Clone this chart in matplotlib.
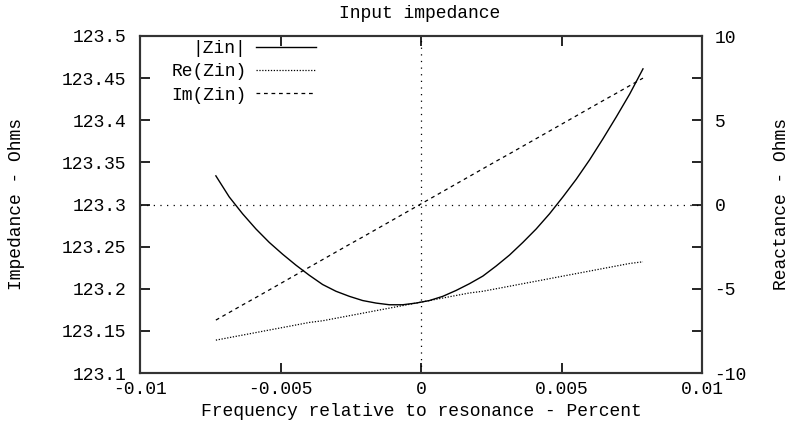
import numpy as np
import matplotlib.pyplot as plt
from matplotlib.ticker import MultipleLocator, FixedLocator, FixedFormatter

plt.rcParams['font.family'] = ['Liberation Mono', 'DejaVu Sans Mono']
plt.rcParams['font.size'] = 13

# frequency offset from resonance, percent
freq = [-0.0073, -0.006825, -0.00635, -0.005875, -0.0054, -0.004925, -0.00445, -0.003975,
        -0.0035, -0.003025, -0.00255, -0.002075, -0.0016, -0.001125, -0.00065, -0.000175,
        0.0003, 0.000775, 0.00125, 0.001725, 0.0022, 0.002675, 0.00315, 0.003625,
        0.0041, 0.004575, 0.00505, 0.005525, 0.006, 0.006475, 0.00695, 0.007425, 0.0079]
# impedance magnitude, ohms
z_mag = [123.334, 123.309, 123.289, 123.271, 123.255, 123.241, 123.228, 123.216,
         123.205, 123.197, 123.191, 123.186, 123.183, 123.181, 123.181, 123.183,
         123.186, 123.191, 123.198, 123.206, 123.215, 123.227, 123.240, 123.255,
         123.271, 123.289, 123.309, 123.330, 123.353, 123.378, 123.404, 123.431, 123.461]
# resistive part, ohms
z_re = [123.139, 123.142, 123.145, 123.148, 123.151, 123.154, 123.157, 123.160,
        123.162, 123.165, 123.168, 123.171, 123.174, 123.177, 123.180, 123.183,
        123.186, 123.189, 123.192, 123.195, 123.197, 123.200, 123.203, 123.206,
        123.209, 123.212, 123.215, 123.218, 123.221, 123.224, 123.227, 123.230, 123.232]
# reactance, ohms (right axis)
z_im = [-6.86, -6.41, -5.96, -5.52, -5.07, -4.62, -4.17, -3.72,
        -3.27, -2.82, -2.37, -1.93, -1.48, -1.03, -0.58, -0.13,
        0.32, 0.77, 1.22, 1.67, 2.12, 2.57, 3.01, 3.46,
        3.91, 4.36, 4.81, 5.26, 5.71, 6.16, 6.60, 7.05, 7.50]

x_ticks = [-0.01, -0.005, 0, 0.005, 0.01]
x_labels = ['-0.01', '-0.005', '0', '0.005', '0.01']
y_ticks = [123.1, 123.15, 123.2, 123.25, 123.3, 123.35, 123.4, 123.45, 123.5]
y_labels = ['123.1', '123.15', '123.2', '123.25', '123.3', '123.35', '123.4', '123.45', '123.5']
y2_ticks = [-10, -5, 0, 5, 10]
y2_labels = ['-10', '-5', '0', '5', '10']

W, H = 790, 425
fig = plt.figure(figsize=(W / 100, H / 100), dpi=100)
ax = fig.add_axes([140 / W, 1 - 373 / H, 562 / W, 337 / H])
ax2 = ax.twinx()

ax.set_xlim(-0.01, 0.01)
ax.set_ylim(123.1, 123.5)
ax2.set_ylim(-10, 10)

l1, = ax.plot(freq, z_mag, color='black', lw=1.0, label='|Zin|')
l2, = ax.plot(freq, z_re, color='black', lw=0.9, ls=(0, (1, 1.3)), label='Re(Zin)')
l3, = ax2.plot(freq, z_im, color='black', lw=0.9, ls=(0, (3, 3)), label='Im(Zin)')

# zero axes
ax.axvline(0, color='black', lw=0.9, ls=(0, (1, 4.3)))
ax2.axhline(0, color='black', lw=0.9, ls=(0, (1, 4.3)))

ax.xaxis.set_major_locator(FixedLocator(x_ticks))
ax.xaxis.set_major_formatter(FixedFormatter(x_labels))
ax.yaxis.set_major_locator(FixedLocator(y_ticks))
ax.yaxis.set_major_formatter(FixedFormatter(y_labels))
ax2.yaxis.set_major_locator(FixedLocator(y2_ticks))
ax2.yaxis.set_major_formatter(FixedFormatter(y2_labels))
ax2.yaxis.set_minor_locator(MultipleLocator(2.5))

ax.tick_params(axis='x', direction='in', length=7, width=1.2, top=True, pad=6)
ax.tick_params(axis='y', direction='in', length=7, width=1.2, right=False, pad=10)
ax2.tick_params(axis='y', which='both', direction='in', length=7, width=1.2, pad=9)

for a in (ax, ax2):
    for s in a.spines.values():
        s.set_linewidth(1.5)
        s.set_color('#333333')

fig.text(420 / W, 1 - 14 / H, 'Input impedance', ha='center', va='center')
fig.text(421 / W, 1 - 412 / H, 'Frequency relative to resonance - Percent',
         ha='center', va='center')
fig.text(17 / W, 1 - 204 / H, 'Impedance - Ohms', rotation=90, ha='center', va='center')
fig.text(782 / W, 1 - 204 / H, 'Reactance - Ohms', rotation=90, ha='center', va='center')

ax.legend(handles=[l1, l2, l3], loc='upper right', markerfirst=False, frameon=False,
          bbox_to_anchor=(316 / W, 1 - 40 / H), bbox_transform=fig.transFigure,
          borderpad=0, borderaxespad=0, handlelength=3.3, handletextpad=0.55,
          labelspacing=0.35, fontsize=13)

fig.savefig('out.png', dpi=100)
